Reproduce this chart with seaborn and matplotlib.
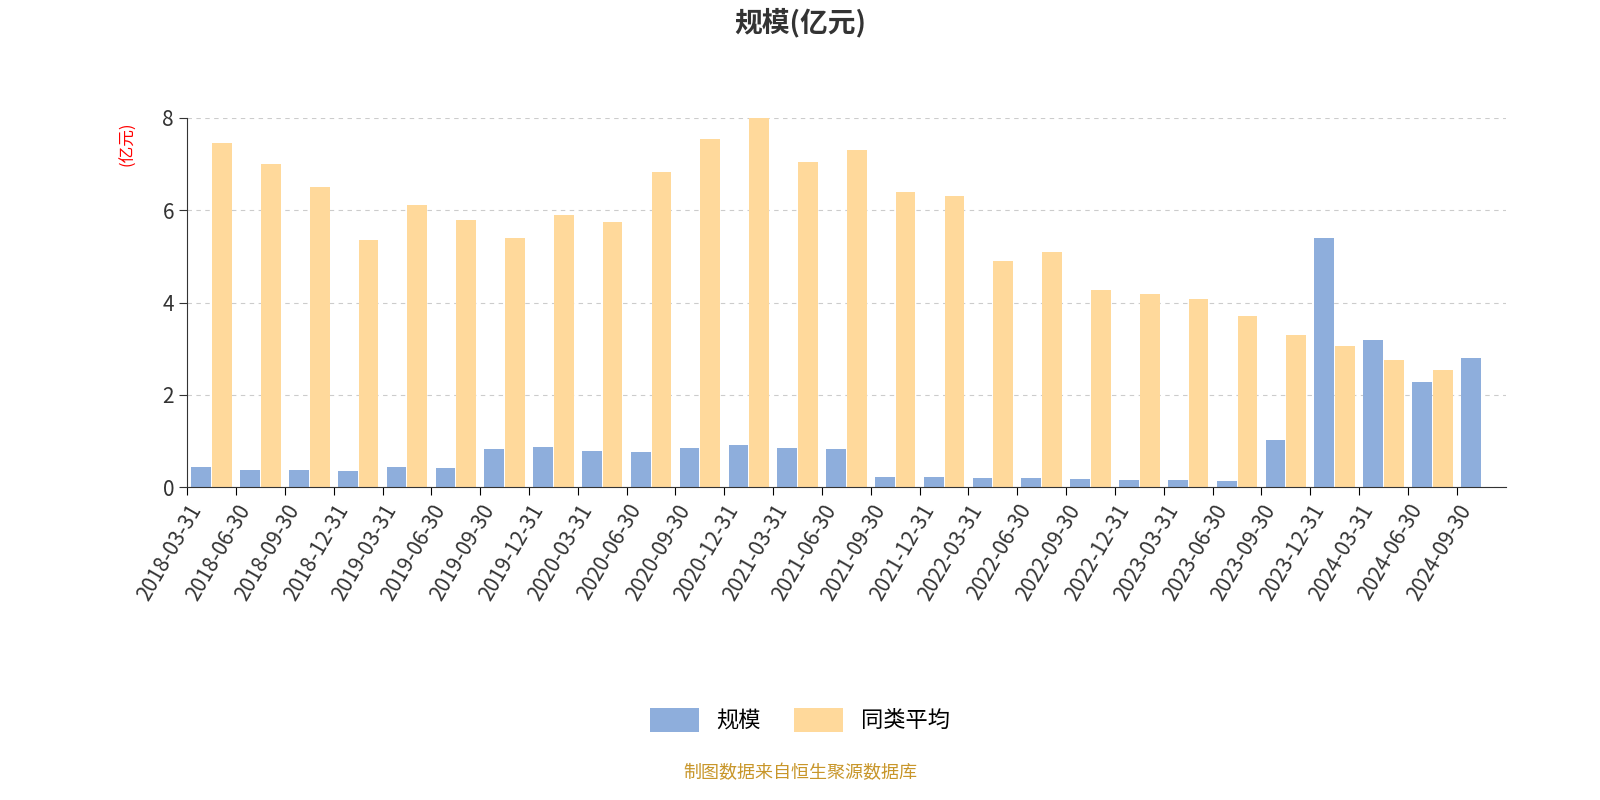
import matplotlib
matplotlib.use("Agg")
import matplotlib.pyplot as plt
import seaborn as sns
import pandas as pd
import numpy as np

plt.rcParams["font.family"] = "sans-serif"
plt.rcParams["font.sans-serif"] = ["Noto Sans CJK SC", "Noto Sans CJK JP", "Noto Sans CJK TC", "Noto Sans CJK KR", "DejaVu Sans"]

dates = ["2018-03-31","2018-06-30","2018-09-30","2018-12-31","2019-03-31","2019-06-30","2019-09-30","2019-12-31",
         "2020-03-31","2020-06-30","2020-09-30","2020-12-31","2021-03-31","2021-06-30","2021-09-30","2021-12-31",
         "2022-03-31","2022-06-30","2022-09-30","2022-12-31","2023-03-31","2023-06-30","2023-09-30","2023-12-31",
         "2024-03-31","2024-06-30","2024-09-30"]
scale = [0.43,0.38,0.38,0.35,0.43,0.41,0.83,0.87,0.78,0.76,0.84,0.92,0.86,0.82,0.23,0.23,0.20,0.20,0.17,0.16,
         0.15,0.14,1.03,5.40,3.18,2.28,2.80]
avg = [7.45,7.00,6.50,5.35,6.12,5.78,5.40,5.90,5.75,6.83,7.55,8.00,7.05,7.30,6.40,6.30,4.90,5.10,4.28,4.18,
       4.07,3.70,3.30,3.05,2.75,2.55,np.nan]

df = pd.DataFrame({"date": dates * 2, "value": scale + avg,
                   "series": ["规模"] * len(dates) + ["同类平均"] * len(dates)})

fig = plt.figure(figsize=(16, 8), dpi=100)
ax = fig.add_axes([0.117, 0.391, 0.824, 0.4615])
sns.barplot(data=df, x="date", y="value", hue="series", order=dates, saturation=1,
            palette={"规模": "#8eaedc", "同类平均": "#ffd99b"}, width=0.85, gap=0.05, ax=ax)
ax.set_xlim(-0.5, len(dates) - 0.5)
ax.set_ylim(0, 8)
ax.set_yticks([0, 2, 4, 6, 8])
ax.tick_params(axis="y", labelsize=15, colors="#333333", length=6)
ax.yaxis.grid(True, linestyle=(0, (4, 4)), color="#cccccc")
ax.set_axisbelow(True)
ax.set_xticks(np.arange(len(dates)) - 0.5)
ax.set_xticklabels(dates, rotation=60, ha="right", rotation_mode="anchor", fontsize=15, color="#333333")
ax.tick_params(axis="x", length=6)
for s in ["top", "right"]:
    ax.spines[s].set_visible(False)
ax.spines["left"].set_color("#333333")
ax.spines["bottom"].set_color("#333333")
ax.set_xlabel("")
ax.set_ylabel("")
fig.text(0.08, 0.82, "(亿元)", color="red", rotation=90, fontsize=12, ha="center", va="center")
fig.text(0.5, 0.972, "规模(亿元)", fontsize=20, fontweight="bold", ha="center", va="center", color="#333333")
ax.legend(loc="center", bbox_to_anchor=(0.5, 0.1), bbox_transform=fig.transFigure, ncol=2,
          frameon=False, fontsize=16, handlelength=2.2, handleheight=1.3, columnspacing=1.5)
fig.text(0.5, 0.034, "制图数据来自恒生聚源数据库", fontsize=13, color="#c8962a", ha="center", va="center")
fig.savefig("out.png")
